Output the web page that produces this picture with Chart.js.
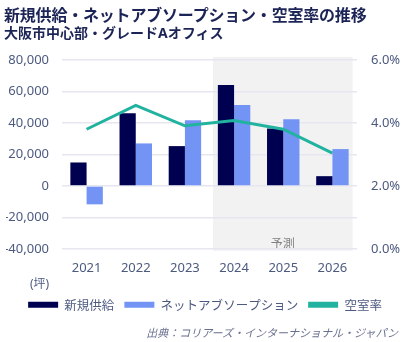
<!DOCTYPE html>
<html>
<head>
<meta charset="utf-8">
<script src="https://cdn.jsdelivr.net/npm/chart.js@4"></script>
<style>
  body { margin: 0; background: #fff; font-family: 'Noto Sans', 'Noto Sans CJK JP', sans-serif; }
  #wrap { position: relative; width: 420px; height: 342px; }
  #c { position: absolute; left: 0; top: 0; }
  .t1 { position: absolute; left: 4px; top: 2px; font-size: 16px; font-weight: bold; color: #1c2456; white-space: nowrap; letter-spacing: -0.2px; }
  .t2 { position: absolute; left: 4px; top: 22px; font-size: 14px; font-weight: bold; color: #1c2456; white-space: nowrap; }
  .unit { position: absolute; left: 30px; top: 274px; font-size: 12px; color: #4d5a80; }
  .src { position: absolute; right: 22px; top: 324px; font-size: 11px; font-style: italic; color: #6a7090; white-space: nowrap; }
</style>
</head>
<body>
<div id="wrap">
  <canvas id="c" width="420" height="342"></canvas>
  <div class="t1">新規供給・ネットアブソープション・空室率の推移</div>
  <div class="t2">大阪市中心部・グレードAオフィス</div>
  <div class="unit">(坪)</div>
  <div class="src">出典：コリアーズ・インターナショナル・ジャパン</div>
</div>
<script>
const anni = ['2021', '2022', '2023', '2024', '2025', '2026'];
const nuovaOfferta = [14900, 46100, 25300, 64100, 36500, 6200];
const assorbimento = [-11700, 27000, 41800, 51400, 42400, 23400];
const sfitto = [3.8, 4.56, 3.91, 4.08, 3.8, 3.04];
const inizioPrevisione = 3; // 2024 in poi = 予測

const coloreTesto = '#4d5a80';

// fondo grigio per la parte prevista
const zonaPrevisione = {
  id: 'zonaPrevisione',
  beforeDraw(chart) {
    const { ctx, scales } = chart;
    const x = scales.x;
    const passo = x.getPixelForValue(1) - x.getPixelForValue(0);
    const sx = x.getPixelForValue(inizioPrevisione) - passo * 0.43;
    const dx = x.getPixelForValue(anni.length - 1) + passo * 0.41;
    const top = chart.chartArea.top - 3;
    const bottom = chart.chartArea.bottom + 2;
    ctx.save();
    ctx.fillStyle = '#f2f2f2';
    ctx.fillRect(sx, top, dx - sx, bottom - top);
    ctx.font = '12px "Noto Sans CJK JP"';
    ctx.fillStyle = '#808080';
    ctx.textAlign = 'center';
    ctx.fillText('予測', (sx + dx) / 2, bottom - 7);
    ctx.restore();
  }
};

const grafico = new Chart(document.getElementById('c'), {
  data: {
    labels: anni,
    datasets: [
      {
        type: 'bar',
        label: '新規供給',
        data: nuovaOfferta,
        backgroundColor: '#000050',
        yAxisID: 'y',
        order: 1
      },
      {
        type: 'bar',
        label: 'ネットアブソープション',
        data: assorbimento,
        backgroundColor: '#7393f5',
        yAxisID: 'y',
        order: 1
      },
      {
        type: 'line',
        label: '空室率',
        data: sfitto,
        borderColor: '#22b3a0',
        backgroundColor: '#22b3a0',
        borderWidth: 3,
        pointRadius: 0,
        tension: 0,
        yAxisID: 'y1',
        order: 0
      }
    ]
  },
  options: {
    responsive: false,
    animation: false,
    layout: { padding: { top: 60, left: 6, right: 16, bottom: 21 } },
    datasets: { bar: { barPercentage: 1, categoryPercentage: 0.66 } },
    plugins: {
      tooltip: { enabled: false },
      legend: {
        position: 'bottom',
        labels: {
          boxWidth: 30,
          boxHeight: 6,
          padding: 10,
          color: coloreTesto,
          font: { size: 12.5, family: '"Noto Sans CJK JP"' },
          sort: (a, b) => a.datasetIndex - b.datasetIndex,
          generateLabels(chart) {
            return Chart.defaults.plugins.legend.labels.generateLabels(chart).map(l => {
              l.lineWidth = 0;
              return l;
            });
          }
        }
      }
    },
    scales: {
      x: {
        grid: { display: false, drawTicks: false },
        border: { display: false },
        ticks: { color: coloreTesto, font: { size: 13, family: '"Noto Sans"' }, padding: 12 }
      },
      y: {
        position: 'left',
        min: -40000,
        max: 80000,
        afterFit: s => { s.width = 56; },
        grid: { color: '#e6e6f0', lineWidth: 1.5, drawTicks: false },
        border: { display: false },
        ticks: {
          stepSize: 20000,
          color: coloreTesto,
          padding: 13,
          font: { size: 13, family: '"Noto Sans"' },
          callback: v => v.toLocaleString('en-US')
        }
      },
      y1: {
        position: 'right',
        min: 0,
        max: 6,
        afterFit: s => { s.width = 47; },
        grid: { display: false, drawTicks: false },
        border: { display: false },
        ticks: {
          stepSize: 2,
          color: coloreTesto,
          padding: 14,
          font: { size: 13, family: '"Noto Sans"' },
          callback: v => v.toFixed(1) + '%'
        }
      }
    }
  },
  plugins: [zonaPrevisione]
});
</script>
</body>
</html>
